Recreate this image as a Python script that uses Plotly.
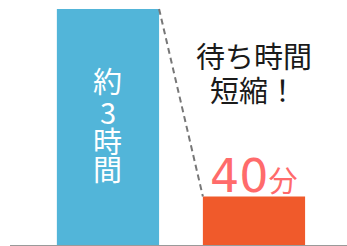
import plotly.graph_objects as go

categories = ["before", "after"]
minutes = [180, 37]
bar_colors = ["#52B5D9", "#F05A2B"]
vertical_label = ["約", "3", "時", "間"]
after_label_num = "40"
after_label_unit = "分"
message_lines = ["待ち時間", "短縮！"]

FONT = "Noto Sans CJK JP, Noto Sans, sans-serif"
x_idx = [0, 1]
bw = 0.7

fig = go.Figure()
fig.add_trace(go.Bar(x=x_idx, y=minutes, width=bw, marker=dict(color=bar_colors, line=dict(width=0)),
                     hoverinfo="skip"))
fig.add_trace(go.Scatter(x=[x_idx[0] + bw / 2, x_idx[1] - bw / 2], y=minutes, mode="lines",
                         line=dict(color="#777777", width=2, dash="6px,4px"), hoverinfo="skip"))

ymax = minutes[0] * 245 / 236


def ypx(p):
    return (245 - p) / 245 * ymax


# vertical label inside first bar
for ch, p in zip(vertical_label, [80, 111, 140, 168]):
    fig.add_annotation(x=x_idx[0], y=ypx(p), text=ch, showarrow=False,
                       font=dict(family=FONT, size=29, color="white"), yanchor="middle")

for line, p in zip(message_lines, [55, 89]):
    fig.add_annotation(x=x_idx[1], y=ypx(p), text=line, showarrow=False,
                       font=dict(family=FONT, size=29, color="#1a1a1a"), yanchor="middle")

fig.add_annotation(x=x_idx[1], y=ypx(176), yanchor="middle",
                   text=after_label_num + "<span style='font-size:29px;font-family:Noto Sans CJK JP'>"
                   + after_label_unit + "</span>",
                   showarrow=False, font=dict(family="DejaVu Sans", size=46, color="#FF6B6B"))

fig.update_layout(
    width=347, height=246, margin=dict(l=10, r=0, t=0, b=1),
    paper_bgcolor="white", plot_bgcolor="white", showlegend=False,
    xaxis=dict(range=[-0.671, 1.637], showticklabels=False, showgrid=False, zeroline=False,
               showline=True, linecolor="#9a9a9a", linewidth=2, fixedrange=True),
    yaxis=dict(range=[0, ymax], visible=False, fixedrange=True),
)
fig.write_html("out.html", config={"displayModeBar": False},
               post_script="document.body.style.margin='0';document.body.style.overflow='hidden';")
